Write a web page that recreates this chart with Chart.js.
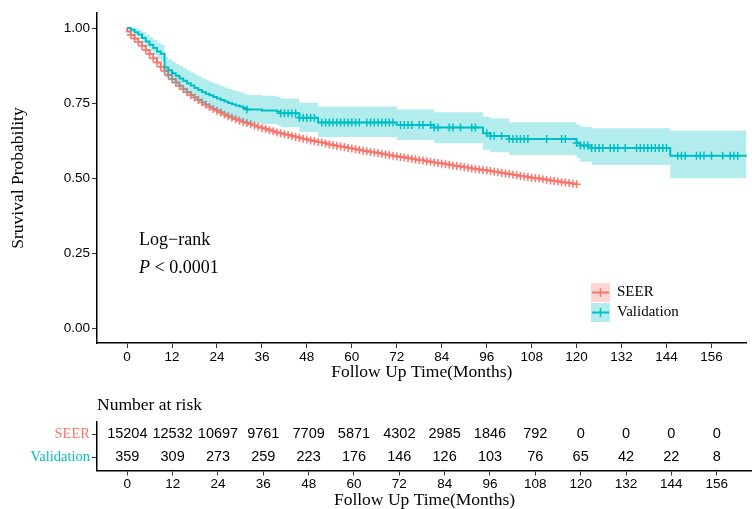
<!DOCTYPE html>
<html><head><meta charset="utf-8">
<script src="https://cdn.jsdelivr.net/npm/chart.js@4.4.1/dist/chart.umd.min.js"></script>
<style>
html,body{margin:0;padding:0;background:#fff;}
#wrap{position:relative;width:752px;height:509px;overflow:hidden;background:#fff;}
#main{position:absolute;left:0;top:0;}
#risk{position:absolute;left:0;top:385px;}
</style></head><body>
<div id="wrap"><canvas id="main" width="752" height="385"></canvas><canvas id="risk" width="752" height="124"></canvas></div>
<script>
// ---------------- data ----------------
const groups = ['SEER', 'Validation'];

const seerTimes = [0,0,1,2,3,4,5,6,7,8,9,10,11,12,13,14,15,16,17,18,19,20,21,22,23,24,25,26,27,28,29,30,
  31,32,33,34,35,36,37,38,39,40,41,42,43,44,45,46,47,48,49,50,51,52,53,54,55,56,57,58,59,60,
  61,62,63,64,65,66,67,68,69,70,71,72,73,74,75,76,77,78,79,80,81,82,83,84,85,86,87,88,89,90,
  91,92,93,94,95,96,97,98,99,100,101,102,103,104,105,106,107,108,109,110,111,112,113,114,115,116,117,118,119,120];
const seerSurv = [1.000,0.988,0.977,0.965,0.953,0.941,0.927,0.913,0.899,0.885,0.871,0.857,0.843,0.830,0.818,0.807,0.796,0.786,0.777,0.768,0.760,0.752,0.744,0.737,0.730,0.724,0.718,0.712,0.706,0.701,0.696,0.692,
  0.687,0.683,0.679,0.675,0.671,0.667,0.663,0.659,0.656,0.652,0.649,0.646,0.643,0.640,0.637,0.634,0.631,0.628,0.625,0.623,0.620,0.618,0.615,0.612,0.610,0.607,0.605,0.603,0.600,0.598,
  0.596,0.593,0.591,0.589,0.587,0.585,0.583,0.581,0.578,0.576,0.574,0.572,0.570,0.568,0.566,0.564,0.562,0.560,0.558,0.556,0.554,0.552,0.550,0.548,0.546,0.544,0.542,0.540,0.538,0.536,
  0.534,0.532,0.530,0.528,0.527,0.525,0.523,0.521,0.519,0.517,0.515,0.513,0.511,0.509,0.507,0.505,0.503,0.501,0.499,0.498,0.496,0.494,0.492,0.490,0.488,0.486,0.485,0.483,0.481,0.479];

const valTimes = [0,1,2,3,4,5,6,7,8,9,10,11,12,13,14,15,16,17,18,19,20,21,22,23,24,25,26,27,28,29,30,31,32,36,40,41,46,51,72,82,95,97,102,120,121,124,145,166];
const valSurv  = [1.000,0.994,0.986,0.978,0.967,0.955,0.944,0.933,0.922,0.914,0.868,0.859,0.849,0.841,0.832,0.824,0.816,0.808,0.800,0.793,0.787,0.781,0.776,0.770,0.765,0.760,0.755,0.750,0.746,0.742,0.738,0.733,0.728,0.725,0.722,0.716,0.701,0.685,0.677,0.668,0.649,0.640,0.630,0.617,0.608,0.600,0.574,0.574];
const valUpper = [1.000,1.000,0.999,0.994,0.987,0.977,0.968,0.960,0.951,0.944,0.904,0.896,0.888,0.881,0.873,0.866,0.859,0.852,0.845,0.838,0.832,0.826,0.821,0.816,0.811,0.806,0.802,0.797,0.793,0.789,0.786,0.781,0.777,0.774,0.771,0.765,0.751,0.738,0.728,0.719,0.704,0.698,0.686,0.677,0.671,0.666,0.658,0.658];
const valLower = [1.000,0.987,0.975,0.964,0.950,0.936,0.923,0.910,0.897,0.888,0.836,0.826,0.815,0.806,0.796,0.787,0.779,0.770,0.762,0.754,0.747,0.741,0.735,0.729,0.723,0.718,0.712,0.707,0.702,0.698,0.693,0.688,0.683,0.680,0.676,0.669,0.653,0.637,0.627,0.616,0.594,0.586,0.577,0.566,0.554,0.543,0.499,0.499];
const valCensorTimes = [32,41,42,43,44,45,46,47,48,49,50,52,53,54,55,56,57,58,59,60,61,62,64,65,66,67,68,69,70,71,73,74,75,76,78,79,81,82,83,86,87,89,92,93,
  96,97,98,100,102,103,104,105,106,107,112,116,117,120,121,122,123,124,125,126,127,129,130,131,133,136,137,138,139,140,141,142,143,144,147,148,149,152,153,154,156,159,161,162,163,166];

const xTicks = [0,12,24,36,48,60,72,84,96,108,120,132,144,156];
const yTicks = [0,0.25,0.5,0.75,1];
const riskTimes = [0,12,24,36,48,60,72,84,96,108,120,132,144,156];
const riskSEER = [15204,12532,10697,9761,7709,5871,4302,2985,1846,792,0,0,0,0];
const riskValidation = [359,309,273,259,223,176,146,126,103,76,65,42,22,8];

// ---------------- style ----------------
const SEER_COL = '#F8766D', VAL_COL = '#00BFC4';
const SEER_FILL = 'rgba(248,118,109,0.3)', VAL_FILL = 'rgba(0,191,196,0.3)';
const sansFont = '"Liberation Sans", Arial, Helvetica, sans-serif';
const serifFont = '"Liberation Serif", "Times New Roman", Times, serif';
const X_MIN = -8.02, X_MAX = 165.35;

function valAt(t) {
  let s = valSurv[0];
  for (let i = 0; i < valTimes.length; i++) if (valTimes[i] <= t) s = valSurv[i];
  return s;
}

function xScale(height, titlePadBottom) {
  return {
    type: 'linear', min: X_MIN, max: X_MAX,
    afterBuildTicks: s => { s.ticks = xTicks.map(v => ({value: v})); },
    afterFit: s => { s.height = height; },
    ticks: { autoSkip: false, maxRotation: 0, padding: 1, color: '#000',
      font: {family: sansFont, size: 13.5}, callback: v => String(v) },
    grid: { display: true, drawOnChartArea: false, drawTicks: true, tickLength: 5, color: '#333', lineWidth: 1 },
    border: { display: true, color: '#000', width: 1.5 },
    title: { display: true, text: 'Follow Up Time(Months)', color: '#000',
      font: {family: serifFont, size: 17.5, lineHeight: 1}, padding: {top: 0, bottom: titlePadBottom} }
  };
}

const mainDecor = {
  id: 'mainDecor',
  afterDraw(chart) {
    const ctx = chart.ctx, a = chart.chartArea;
    ctx.save();
    ctx.fillStyle = '#000';
    ctx.textBaseline = 'middle';
    ctx.textAlign = 'left';
    const ax = a.left + 42;
    ctx.font = '18px ' + serifFont;
    ctx.fillText('Log\u2212rank', ax, 240);
    ctx.font = 'italic 18px ' + serifFont;
    ctx.fillText('P', ax, 268);
    const pw = ctx.measureText('P').width;
    ctx.font = '18px ' + serifFont;
    ctx.fillText(' < 0.0001', ax + pw, 268);
    // legend
    const items = [[groups[0], SEER_COL, SEER_FILL, 292.5], [groups[1], VAL_COL, VAL_FILL, 312.5]];
    const lx = 591;
    items.forEach(([lab, col, fill, cy]) => {
      ctx.fillStyle = fill;
      ctx.fillRect(lx, cy - 9.5, 19, 19);
      ctx.strokeStyle = col;
      ctx.lineWidth = 2;
      ctx.beginPath(); ctx.moveTo(lx + 1, cy); ctx.lineTo(lx + 18, cy); ctx.stroke();
      ctx.lineWidth = 1.5;
      ctx.beginPath(); ctx.moveTo(lx + 9.5, cy - 4.5); ctx.lineTo(lx + 9.5, cy + 4.5); ctx.stroke();
      ctx.fillStyle = '#000';
      ctx.font = '15px ' + serifFont;
      ctx.fillText(lab, lx + 26, cy);
    });
    ctx.restore();
  }
};

new Chart(document.getElementById('main'), {
  type: 'line',
  data: {
    datasets: [
      { label: 'ciUpper', data: valTimes.map((t, i) => ({x: t, y: valUpper[i]})), stepped: 'before',
        borderWidth: 0, borderColor: 'rgba(0,0,0,0)', backgroundColor: VAL_FILL, fill: '+1', pointRadius: 0, order: 3 },
      { label: 'ciLower', data: valTimes.map((t, i) => ({x: t, y: valLower[i]})), stepped: 'before',
        borderWidth: 0, borderColor: 'rgba(0,0,0,0)', fill: false, pointRadius: 0, order: 3 },
      { label: groups[0], data: seerTimes.map((t, i) => ({x: t, y: seerSurv[i]})), stepped: 'before',
        borderColor: SEER_COL, borderWidth: 2, fill: false,
        pointStyle: 'cross', pointRadius: c => c.dataIndex < 2 ? 0 : 4, pointBorderWidth: 1.5,
        pointBorderColor: SEER_COL, order: 5 },
      { label: groups[1], data: valTimes.map((t, i) => ({x: t, y: valSurv[i]})), stepped: 'before',
        borderColor: VAL_COL, borderWidth: 2, fill: false, pointRadius: 0, order: 4 },
      { label: 'censor', data: valCensorTimes.map(t => ({x: t, y: valAt(t)})), showLine: false,
        pointStyle: 'cross', pointRadius: 4, pointBorderWidth: 1.5, pointBorderColor: VAL_COL, order: 1 }
    ]
  },
  options: {
    responsive: false, animation: false, events: [], devicePixelRatio: 1,
    layout: { padding: {top: 13, left: 0, right: 0, bottom: 0} },
    plugins: { legend: {display: false}, tooltip: {enabled: false}, title: {display: false} },
    scales: {
      x: xScale(42, 4),
      y: {
        type: 'linear', min: -0.05, max: 1.05,
        afterBuildTicks: s => { s.ticks = yTicks.map(v => ({value: v})); },
        afterFit: s => { s.width = 97; },
        ticks: { padding: 2, color: '#000', font: {family: sansFont, size: 13.5}, callback: v => Number(v).toFixed(2) },
        grid: { display: true, drawOnChartArea: false, drawTicks: true, tickLength: 5, color: '#333', lineWidth: 1 },
        border: { display: true, color: '#000', width: 1.5 },
        title: { display: true, text: 'Sruvival Probability', color: '#000',
          font: {family: serifFont, size: 17.5, lineHeight: 1}, padding: {top: 9.5, bottom: 0} }
      }
    }
  },
  plugins: [mainDecor]
});

const riskRows = [2, 1];
const riskDecor = {
  id: 'riskDecor',
  afterDraw(chart) {
    const ctx = chart.ctx, xs = chart.scales.x, ys = chart.scales.y;
    ctx.save();
    ctx.fillStyle = '#000';
    ctx.font = '17.5px ' + serifFont;
    ctx.textAlign = 'left'; ctx.textBaseline = 'middle';
    ctx.fillText('Number at risk', chart.chartArea.left, 20);
    ctx.font = '14.5px ' + sansFont;
    ctx.textAlign = 'center';
    [riskSEER, riskValidation].forEach((row, r) => {
      const y = ys.getPixelForValue(riskRows[r]);
      row.forEach((n, i) => ctx.fillText(String(n), xs.getPixelForValue(riskTimes[i]), y));
    });
    ctx.restore();
  }
};

new Chart(document.getElementById('risk'), {
  type: 'scatter',
  data: { datasets: [] },
  options: {
    responsive: false, animation: false, events: [], devicePixelRatio: 1,
    layout: { padding: {top: 36.5, left: 0, right: 0, bottom: 0} },
    plugins: { legend: {display: false}, tooltip: {enabled: false}, title: {display: false} },
    scales: {
      x: xScale(38.5, 0),
      y: {
        type: 'linear', min: 0.43, max: 2.55,
        afterBuildTicks: s => { s.ticks = riskRows.map(v => ({value: v})); },
        afterFit: s => { s.width = 97; },
        ticks: { padding: 2, font: {family: serifFont, size: 14.5},
          color: c => (c.tick && c.tick.value === riskRows[0]) ? SEER_COL : VAL_COL,
          callback: v => groups[riskRows.indexOf(v)] },
        grid: { display: true, drawOnChartArea: false, drawTicks: true, tickLength: 5, color: '#333', lineWidth: 1 },
        border: { display: true, color: '#000', width: 1.5 },
        title: { display: false }
      }
    }
  },
  plugins: [riskDecor]
});
</script>
</body></html>
